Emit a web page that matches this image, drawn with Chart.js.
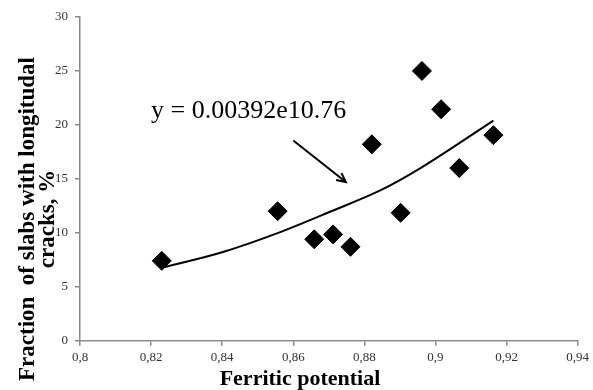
<!DOCTYPE html>
<html>
<head>
<meta charset="utf-8">
<script src="https://cdn.jsdelivr.net/npm/chart.js@4/dist/chart.umd.min.js"></script>
<style>
  html, body { margin: 0; padding: 0; background: #fff; }
  #wrap { width: 593px; height: 390px; position: relative; }
</style>
</head>
<body>
<div id="wrap"><canvas id="c"></canvas></div>
<script>
// measured points
const ferritic = [0.823, 0.8556, 0.8659, 0.8712, 0.8761, 0.8821, 0.8902, 0.8962, 0.9016, 0.9067, 0.9163];
const cracks = [7.4, 12.0, 9.4, 9.85, 8.7, 18.2, 11.85, 25.0, 21.45, 16.0, 19.05];

// trend curve
const trendX = [0.8235, 0.84, 0.855, 0.8707, 0.8846, 0.8958, 0.9163];
const trendY = [6.8, 8.2, 9.9, 12.0, 13.95, 16.0, 20.4];

const xTickLabels = ["0,8", "0,82", "0,84", "0,86", "0,88", "0,9", "0,92", "0,94"];
const yTickLabels = ["0", "5", "10", "15", "20", "25", "30"];

const equation = "y = 0.00392e10.76";

const serif = "'Liberation Serif', 'Times New Roman', serif";
Chart.defaults.font.family = serif;
Chart.defaults.color = "#333";

const axisGray = "#8a8a8a";

// titles + equation + arrow
const extras = {
  id: "extras",
  afterDraw(chart) {
    const ctx = chart.ctx;
    const xs = chart.scales.x, ys = chart.scales.y;
    ctx.save();
    ctx.fillStyle = "#000";

    // x title
    ctx.font = "bold 22px " + serif;
    ctx.textAlign = "center";
    ctx.textBaseline = "middle";
    ctx.fillText("Ferritic potential", 300, 379);

    // y title (two lines)
    ctx.save();
    ctx.translate(28, 219);
    ctx.rotate(-Math.PI / 2);
    ctx.font = "bold 23px " + serif;
    ctx.fillText("Fraction  of slabs with longitudal", 0, 0);
    ctx.fillText("cracks, %", 0, 20);
    ctx.restore();

    // equation
    ctx.font = "26px " + serif;
    ctx.textAlign = "left";
    ctx.textBaseline = "alphabetic";
    ctx.fillText(equation, xs.getPixelForValue(0.82), ys.getPixelForValue(20.65));

    // arrow
    const x1 = xs.getPixelForValue(0.86), y1 = ys.getPixelForValue(18.56);
    const x2 = xs.getPixelForValue(0.8748), y2 = ys.getPixelForValue(14.7);
    ctx.strokeStyle = "#000";
    ctx.lineWidth = 2;
    ctx.beginPath();
    ctx.moveTo(x1, y1);
    ctx.lineTo(x2, y2);
    ctx.stroke();
    const a = Math.atan2(y2 - y1, x2 - x1);
    const h = 10;
    ctx.beginPath();
    ctx.moveTo(x2 - h * Math.cos(a - 0.45), y2 - h * Math.sin(a - 0.45));
    ctx.lineTo(x2, y2);
    ctx.lineTo(x2 - h * Math.cos(a + 0.45), y2 - h * Math.sin(a + 0.45));
    ctx.stroke();
    ctx.restore();
  }
};

new Chart(document.getElementById("c"), {
  type: "scatter",
  data: {
    datasets: [
      {
        label: "trend",
        type: "line",
        data: trendX.map((x, i) => ({ x, y: trendY[i] })),
        borderColor: "#000",
        borderWidth: 2,
        pointRadius: 0,
        fill: false,
        cubicInterpolationMode: "monotone"
      },
      {
        label: "slabs",
        data: ferritic.map((x, i) => ({ x, y: cracks[i] })),
        pointStyle: "rectRot",
        pointRadius: 9.5,
        backgroundColor: "#000",
        borderColor: "#000",
        borderWidth: 1
      }
    ]
  },
  options: {
    responsive: true,
    maintainAspectRatio: false,
    animation: false,
    layout: { padding: { top: 17, right: 11, left: 0, bottom: 0 } },
    plugins: {
      legend: { display: false },
      tooltip: { enabled: false }
    },
    scales: {
      x: {
        type: "linear",
        min: 0.8,
        max: 0.94,
        afterFit(s) { s.height = 49.3; },
        afterBuildTicks(s) {
          s.ticks = xTickLabels.map((_, i) => ({ value: 0.8 + i * 0.02 }));
        },
        ticks: {
          callback: (v, i) => xTickLabels[i],
          font: { size: 13 },
          padding: 4,
          maxRotation: 0
        },
        grid: { drawOnChartArea: false, drawTicks: true, tickLength: 5, color: axisGray, lineWidth: 1.5 },
        border: { color: axisGray, width: 1.5 }
      },
      y: {
        min: 0,
        max: 30,
        afterFit(s) { s.width = 80; },
        afterBuildTicks(s) {
          s.ticks = yTickLabels.map(t => ({ value: Number(t) }));
        },
        ticks: {
          callback: (v, i) => yTickLabels[i],
          font: { size: 13 },
          padding: 7
        },
        grid: { drawOnChartArea: false, drawTicks: true, tickLength: 5, color: axisGray, lineWidth: 1.5 },
        border: { color: axisGray, width: 1.5 }
      }
    }
  },
  plugins: [extras]
});
</script>
</body>
</html>
